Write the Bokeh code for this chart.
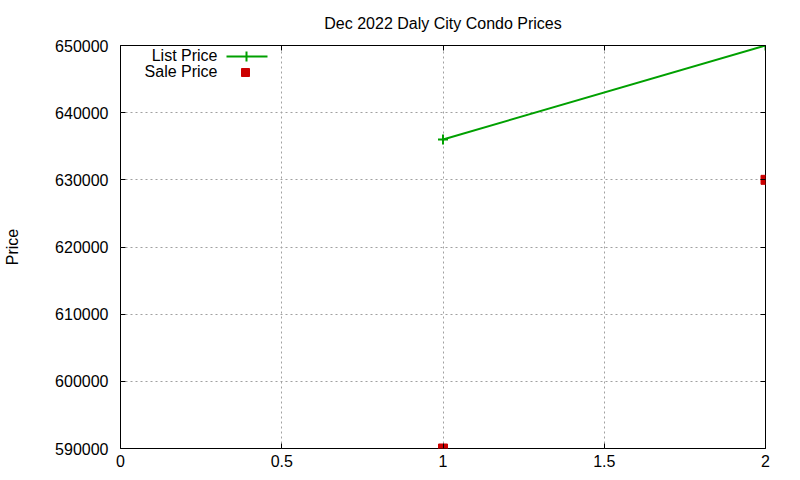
from bokeh.plotting import figure
from bokeh.models import (ColumnDataSource, LinearAxis, FixedTicker, Label,
                          Arrow, BoxAnnotation, Range1d, BasicTickFormatter)
from bokeh.embed import file_html
from bokeh.resources import INLINE

# data
x_vals = [1, 2]
list_price = [636000, 650000]
sale_price = [590000, 630000]
x_ticks = [0, 0.5, 1, 1.5, 2]
y_ticks = [590000, 600000, 610000, 620000, 630000, 640000, 650000]
series_names = ["List Price", "Sale Price"]

FONT = "Liberation Sans"
FS = "16px"
GREEN = "#00a000"
RED = "#cc0000"

p = figure(width=800, height=480, output_backend="svg", toolbar_location=None,
           x_range=Range1d(0, 2), y_range=Range1d(590000, 650000),
           title="Dec 2022 Daly City Condo Prices",
           min_border_left=120, min_border_right=35, min_border_top=45,
           min_border_bottom=32)

p.title.align = "center"
p.title.vertical_align = "top"
p.title.text_font = FONT
p.title.text_font_size = FS
p.title.text_font_style = "normal"
p.title.text_color = "black"
p.title.standoff = 24

p.outline_line_color = "black"
p.outline_line_width = 1

for ax in p.xaxis + p.yaxis:
    ax.major_label_text_font = FONT
    ax.major_label_text_font_size = FS
    ax.major_label_text_color = "black"
    ax.major_tick_in = 5
    ax.major_tick_out = 0
    ax.minor_tick_in = 0
    ax.minor_tick_out = 0
    ax.axis_line_color = None
    ax.major_tick_line_color = "black"

p.xaxis.ticker = FixedTicker(ticks=x_ticks)
p.yaxis.ticker = FixedTicker(ticks=y_ticks)
p.yaxis.formatter = BasicTickFormatter(use_scientific=False)
p.xaxis.major_label_overrides = {0: "0", 1: "1", 2: "2"}
p.xaxis.major_label_standoff = 6
p.yaxis.major_label_standoff = 12
p.yaxis.axis_label = "Price"
p.yaxis.axis_label_text_font = FONT
p.yaxis.axis_label_text_font_size = FS
p.yaxis.axis_label_text_font_style = "normal"
p.yaxis.axis_label_text_color = "black"
p.yaxis.axis_label_standoff = 31

# mirrored ticks
top = LinearAxis(ticker=FixedTicker(ticks=x_ticks), major_label_text_font_size="0px",
                 major_tick_in=5, major_tick_out=0, minor_tick_in=0, minor_tick_out=0,
                 axis_line_color=None, major_label_standoff=0)
right = LinearAxis(ticker=FixedTicker(ticks=y_ticks), major_label_text_font_size="0px",
                   major_tick_in=5, major_tick_out=0, minor_tick_in=0, minor_tick_out=0,
                   axis_line_color=None, major_label_standoff=0)
p.add_layout(top, "above")
p.add_layout(right, "right")

p.xgrid.ticker = FixedTicker(ticks=x_ticks)
p.ygrid.ticker = FixedTicker(ticks=y_ticks)
p.grid.grid_line_color = "#a0a0a0"
p.grid.grid_line_dash = "2 3"
p.grid.grid_line_width = 1

src = ColumnDataSource(dict(x=x_vals, lp=list_price, sp=sale_price))
p.line("x", "lp", source=src, line_color=GREEN, line_width=2)
p.scatter("x", "lp", source=src, marker="cross", size=10, line_color=GREEN, line_width=2)
p.scatter("x", "sp", source=src, marker="square", size=9, fill_color=RED, line_color=RED)

# gnuplot-style key: text right aligned, sample to the right (screen units from frame)
for name, ky in zip(series_names, [393, 377]):
    p.add_layout(Label(x=97, y=ky, x_units="screen", y_units="screen",
                       text=name, text_align="right", text_baseline="middle",
                       text_font=FONT, text_font_size=FS, text_color="black"))

p.add_layout(Arrow(x_start=106, y_start=392, x_end=147, y_end=392,
                   start_units="screen", end_units="screen", start=None, end=None,
                   line_color=GREEN, line_width=2))
p.add_layout(Arrow(x_start=126, y_start=387, x_end=126, y_end=397,
                   start_units="screen", end_units="screen", start=None, end=None,
                   line_color=GREEN, line_width=2))
p.add_layout(BoxAnnotation(left=121, right=129, bottom=372, top=380,
                           left_units="screen", right_units="screen",
                           bottom_units="screen", top_units="screen",
                           fill_color=RED, fill_alpha=1, line_color=RED, line_alpha=1))

out = open("out.html", "w")
out.write(file_html(p, INLINE))
out.close()
